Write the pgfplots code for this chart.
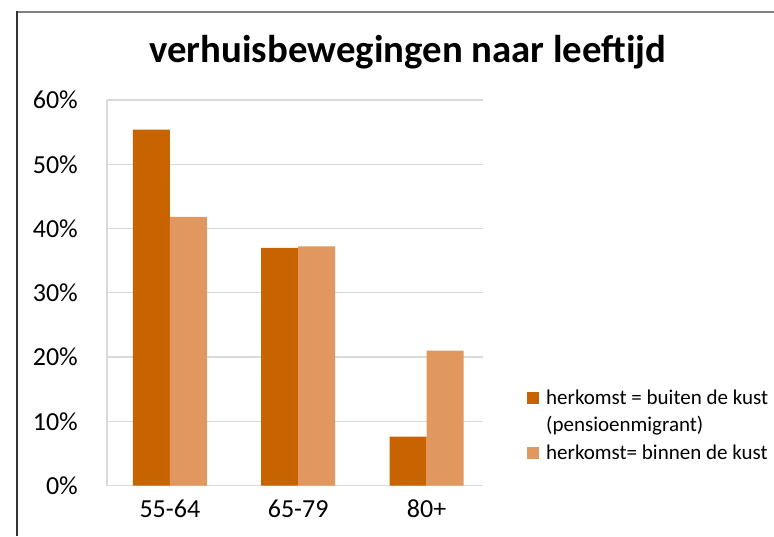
\documentclass[border=0pt]{standalone}
\usepackage{fontspec}
\setmainfont{Carlito}
\usepackage{pgfplots}
\pgfplotsset{compat=1.18}
\definecolor{darkor}{RGB}{200,100,0}
\definecolor{lightor}{RGB}{224,152,94}
\definecolor{gridc}{RGB}{217,217,217}
\begin{document}
\begin{tikzpicture}
\path[use as bounding box] (0pt,0pt) rectangle (774pt,536pt);
\draw[line width=1.5pt, color=black!50] (17pt,524pt) -- (774pt,524pt);
\draw[line width=1.5pt, color=black!80] (17pt,524.75pt) -- (17pt,0pt);
\node[anchor=base, font=\fontsize{38.8}{44}\selectfont\bfseries] at (408pt,473pt) {verhuisbewegingen naar leeftijd};
\begin{axis}[
  at={(107pt,50.5pt)}, anchor=south west,
  scale only axis, width=376pt, height=385.5pt,
  xmin=-0.49, xmax=2.44, ymin=0, ymax=60,
  ybar=0pt, bar width=37pt,
  xtick={0,1,2}, xticklabels={55-64,65-79,80+},
  ytick={0,10,20,30,40,50,60},
  yticklabels={0\%,10\%,20\%,30\%,40\%,50\%,60\%},
  major tick length=0pt,
  ymajorgrids, grid style={draw=gridc, line width=1.3pt},
  axis lines*=left,
  axis line style={draw=gridc, line width=1.3pt},
  ticklabel style={font=\fontsize{26}{30}\selectfont, inner sep=0pt},
  yticklabel style={anchor=east, xshift=-29pt},
  xticklabel style={anchor=north, yshift=-14.5pt},
  legend cell align=left,
  legend image code/.code={\fill[#1] (0pt,-6pt) rectangle (12pt,6pt);},
  legend style={draw=none, fill=none, inner sep=0pt, row sep=7pt, column sep=5pt,
    cells={inner sep=0pt},
    font=\fontsize{21}{25}\selectfont,
    at={(1.117,0.2546)}, anchor=north west},
]
\addplot[fill=darkor, draw=none] coordinates {(0,55.4) (1,37.0) (2,7.6)};
\addlegendentry{herkomst = buiten de kust}
\addlegendimage{empty legend}
\addlegendentry{(pensioenmigrant)}
\addplot[fill=lightor, draw=none] coordinates {(0,41.8) (1,37.2) (2,21.0)};
\addlegendentry{herkomst= binnen de kust}
\end{axis}
\end{tikzpicture}
\end{document}
